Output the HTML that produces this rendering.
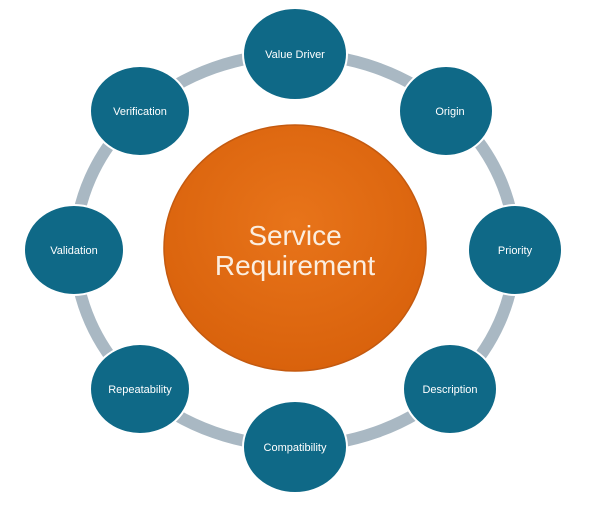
<!DOCTYPE html>
<html><head><style>body{margin:0;background:#fff}</style></head><body>
<svg width="600" height="500" viewBox="0 0 600 500" xmlns="http://www.w3.org/2000/svg" font-family="Liberation Sans, sans-serif">
<defs>
<radialGradient id="o" cx="50%" cy="40%" r="60%"><stop offset="0" stop-color="#e8741a"/><stop offset="1" stop-color="#d9620c"/></radialGradient>
</defs>
<ellipse cx="295" cy="250" rx="220" ry="196" fill="none" stroke="#a9b8c3" stroke-width="12"/>
<ellipse cx="295" cy="248" rx="131" ry="123" fill="url(#o)" stroke="#c45a10" stroke-width="1.5"/>
<text x="295" y="245" font-size="28" fill="#fbeee0" text-anchor="middle">Service</text>
<text x="295" y="275" font-size="28" fill="#fbeee0" text-anchor="middle">Requirement</text>
<g fill="#0f6987" stroke="#fff" stroke-width="2">
<ellipse cx="295" cy="54" rx="52" ry="46"/>
<ellipse cx="446" cy="111" rx="47" ry="45"/>
<ellipse cx="515" cy="250" rx="47" ry="45"/>
<ellipse cx="450" cy="389" rx="47" ry="45"/>
<ellipse cx="295" cy="447" rx="52" ry="46"/>
<ellipse cx="140" cy="389" rx="50" ry="45"/>
<ellipse cx="74" cy="250" rx="50" ry="45"/>
<ellipse cx="140" cy="111" rx="50" ry="45"/>
</g>
<g fill="#fff" font-size="11" text-anchor="middle">
<text x="295" y="58">Value Driver</text>
<text x="450" y="115">Origin</text>
<text x="515" y="254">Priority</text>
<text x="450" y="393">Description</text>
<text x="295" y="451">Compatibility</text>
<text x="140" y="393">Repeatability</text>
<text x="74" y="254">Validation</text>
<text x="140" y="115">Verification</text>
</g>
</svg>
</body></html>
